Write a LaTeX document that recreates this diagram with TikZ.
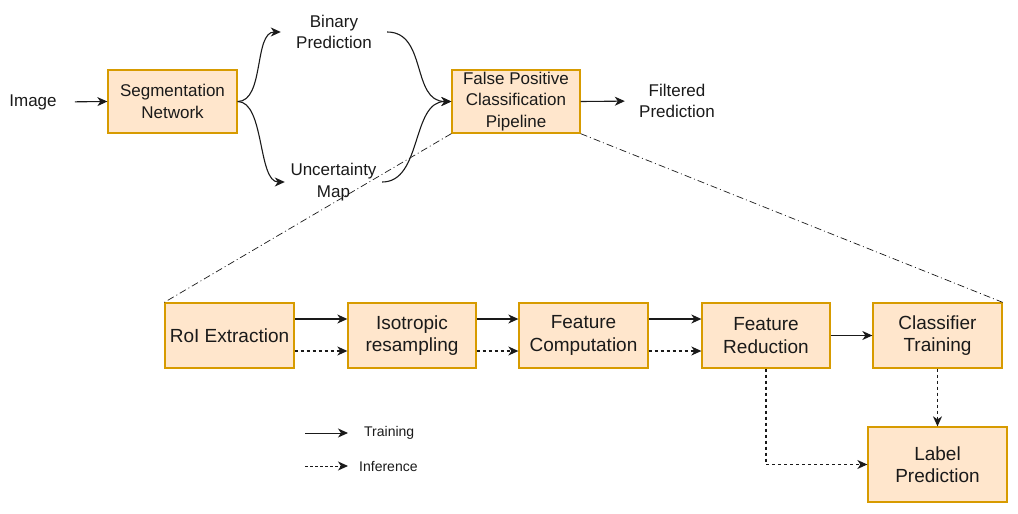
\documentclass[tikz,border=0pt]{standalone}
\usepackage{fontspec}
\setmainfont{Liberation Sans}
\usetikzlibrary{arrows.meta,calc}
\definecolor{boxfill}{HTML}{FFE6CC}
\definecolor{boxdraw}{HTML}{D79B00}
\definecolor{ink}{HTML}{1A1A1A}
\begin{document}
\begin{tikzpicture}[x=1pt,y=-1pt,
  topfont/.style={font=\fontsize{17}{21.5}\selectfont},
  botfont/.style={font=\fontsize{19}{22.5}\selectfont},
  stagebox/.style={draw=boxdraw,fill=boxfill,line width=1.3pt,align=center,inner sep=0pt,text=ink},
  plain/.style={align=center,inner sep=0pt,text=ink},
  tip/.style={-{Stealth[length=10pt,width=9pt,inset=3pt]}},
  solidarrow/.style={tip,line width=1.1pt,draw=ink},
  dotarrow/.style={tip,line width=1.1pt,draw=ink,dash pattern=on 3pt off 3pt},
  zoomline/.style={line width=0.7pt,draw=ink,dash pattern=on 7pt off 3pt on 1pt off 3pt}
]
\useasboundingbox (0,0) rectangle (1018,514);

% top row
\node[plain,topfont] (img) at (33,102) {Image};
\node[stagebox,topfont,minimum width=129pt,minimum height=63pt] (seg) at (172.5,101.5) {Segmentation\\Network};
\node[plain,topfont,minimum width=106pt] (bin) at (334,32) {Binary\\Prediction};
\node[plain,topfont,minimum width=97pt] (unc) at (333.5,182) {Uncertainty\\Map};
\node[stagebox,topfont,minimum width=128pt,minimum height=63pt] (fp) at (516,101.5) {False Positive\\Classification\\Pipeline};
\node[plain,topfont,minimum width=76pt] (filt) at (677,101) {Filtered\\Prediction};

\draw[solidarrow,shorten <=18pt] (img.east) -- (seg.west);
\draw[solidarrow] (seg.east) .. controls +(27,0) and +(-27,0) .. (bin.west);
\draw[solidarrow] (seg.east) .. controls +(27,0) and +(-27,0) .. (unc.west);
\draw[solidarrow] (bin.east) .. controls +(40,0) and +(-40,0) .. (fp.west);
\draw[solidarrow] (unc.east) .. controls +(40,0) and +(-40,0) .. (fp.west);
\draw[solidarrow,shorten >=14pt] (fp.east) -- (filt.west);

% bottom row
\node[stagebox,botfont,minimum width=129pt,minimum height=65pt] (roi) at (229.5,335.5) {RoI Extraction};
\node[stagebox,botfont,minimum width=128pt,minimum height=65pt] (iso) at (412,335.5) {Isotropic\\resampling};
\node[stagebox,botfont,minimum width=129pt,minimum height=65pt] (fc) at (583.5,335.5) {Feature\\Computation};
\node[stagebox,botfont,minimum width=128pt,minimum height=65pt] (fr) at (766,335.5) {Feature\\Reduction};
\node[stagebox,botfont,minimum width=129pt,minimum height=65pt] (ct) at (937.5,335.5) {Classifier\\Training};
\node[stagebox,botfont,minimum width=139pt,minimum height=75pt] (lp) at (937.5,464.5) {Label\\Prediction};

\draw[zoomline] (fp.south west) -- (roi.north west);
\draw[zoomline] (fp.south east) -- (ct.north east);

\foreach \a/\b in {roi/iso,iso/fc,fc/fr}{
  \draw[solidarrow] ([yshift=16.5pt]\a.east) -- ([yshift=16.5pt]\b.west);
  \draw[dotarrow] ([yshift=-15.5pt]\a.east) -- ([yshift=-15.5pt]\b.west);
}
\draw[solidarrow] (fr.east) -- (ct.west);
\draw[dotarrow] (ct.south) -- (lp.north);
\draw[dotarrow] (fr.south) |- (lp.west);

% legend
\coordinate (ta) at (305,433);
\coordinate (ia) at (305,466);
\node[plain,font=\fontsize{14}{16}\selectfont,anchor=west] (tr) at (364,433) {Training};
\node[plain,font=\fontsize{14}{16}\selectfont,anchor=west] (inf) at (359,466) {Inference};
\draw[solidarrow,line width=1pt,shorten >=16pt] (ta) -- (tr.west);
\draw[dotarrow,line width=1pt,dash pattern=on 2.5pt off 2.5pt,shorten >=11pt] (ia) -- (inf.west);
\end{tikzpicture}
\end{document}
